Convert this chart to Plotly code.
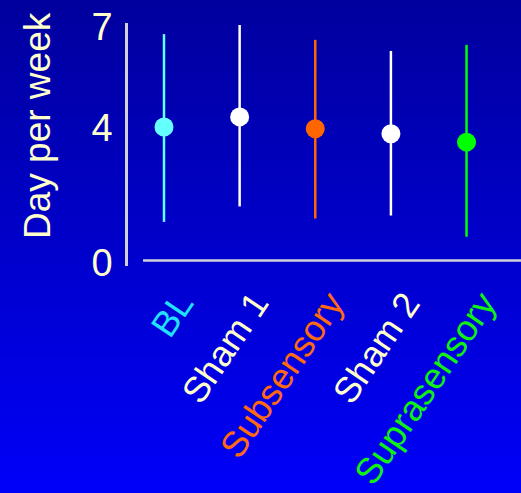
import plotly.graph_objects as go

categories = ["BL", "Sham 1", "Subsensory", "Sham 2", "Suprasensory"]
means = [4.03, 4.33, 3.98, 3.83, 3.58]
upper = [6.79, 7.06, 6.62, 6.29, 6.47]
lower = [1.21, 1.67, 1.31, 1.40, 0.77]
point_colors = ["#66FFFF", "#FFFFFF", "#FF6600", "#FFFFFF", "#00FF00"]
label_colors = ["#22E0FF", "#FFFFCC", "#FF6A10", "#FFFFCC", "#11F011"]
ytick_vals = [0, 4, 7]
ytick_text = ["0", "4", "7"]
y_title = "Day per week"

W, H = 521, 493
L, R, T, B = 128, 0, 23, 227
pw, ph = W - L - R, H - T - B

fig = go.Figure()
for i, cat in enumerate(categories):
    fig.add_trace(go.Scatter(
        x=[i], y=[means[i]], mode="markers",
        marker=dict(size=19, color=point_colors[i]),
        error_y=dict(type="data", symmetric=False,
                     array=[upper[i] - means[i]],
                     arrayminus=[means[i] - lower[i]],
                     color=point_colors[i], thickness=2.5, width=0),
        showlegend=False, hoverinfo="skip", cliponaxis=False,
    ))

# background gradient
shapes = []
N = 80
x0p, x1p = -L / pw, 1 + R / pw
ytop, ybot = 1 + T / ph, -B / ph
top_c, bot_c = (0, 0, 158), (0, 0, 248)
for k in range(N):
    f = k / (N - 1)
    c = tuple(int(round(top_c[j] + (bot_c[j] - top_c[j]) * f)) for j in range(3))
    ya = ytop + (ybot - ytop) * k / N
    yb = ytop + (ybot - ytop) * (k + 1) / N
    shapes.append(dict(type="rect", xref="paper", yref="paper", layer="below",
                       x0=x0p, x1=x1p, y0=yb - 0.002, y1=ya + 0.002,
                       line=dict(width=0), fillcolor="rgb(%d,%d,%d)" % c))
# x axis baseline
shapes.append(dict(type="line", xref="paper", yref="paper",
                   x0=(143 - L) / pw, x1=1, y0=5.4 / ph, y1=5.4 / ph,
                   line=dict(color="#D0D0D8", width=2.5), layer="above"))

annotations = []
for i, cat in enumerate(categories):
    annotations.append(dict(
        x=i, y=-16 / ph, xref="x", yref="paper", text=cat, showarrow=False,
        textangle=-56, xanchor="right", yanchor="top", xshift=40,
        font=dict(family="Liberation Sans, Arial", size=36, color=label_colors[i]),
    ))
annotations.append(dict(
    x=0, y=(ph - (126 - T)) / ph, xref="paper", yref="paper", text=y_title,
    showarrow=False, textangle=-90, xanchor="center", yanchor="middle", xshift=-90,
    font=dict(family="Liberation Sans, Arial", size=37, color="#FFFFCC"),
))

fig.update_layout(
    width=W, height=H,
    margin=dict(l=L, r=R, t=T, b=B),
    paper_bgcolor="#0000CC", plot_bgcolor="rgba(0,0,0,0)",
    shapes=shapes, annotations=annotations,
    xaxis=dict(range=[-0.476, 4.72], showgrid=False, zeroline=False,
               showticklabels=False, showline=False, ticks=""),
    yaxis=dict(range=[-0.1, 7.12], showgrid=False, zeroline=False,
               tickvals=ytick_vals, ticktext=ytick_text, ticks="",
               ticklabelstandoff=5,
               tickfont=dict(family="Liberation Sans, Arial", size=38, color="#FFFFCC"),
               showline=True, linecolor="#D0D0D8", linewidth=2.5),
)
fig.write_html("out.html")
